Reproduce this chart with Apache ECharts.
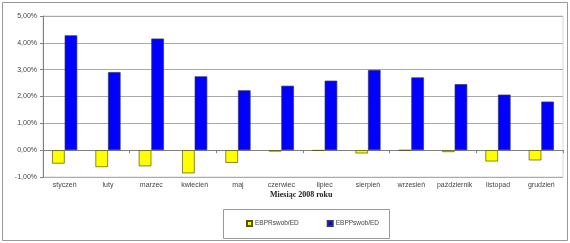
<!DOCTYPE html>
<html><head><meta charset="utf-8">
<script src="https://cdn.jsdelivr.net/npm/echarts@6/dist/echarts.min.js"></script>
<style>html,body{margin:0;padding:0;background:#fff}#c{width:570px;height:243px}</style>
</head><body><div id="c"></div>
<script>
const categories = ['styczeń','luty','marzec','kwiecień','maj','czerwiec','lipiec','sierpień','wrzesień','październik','listopad','grudzień'];
const seriesNames = ['EBPRswob/ED','EBPPswob/ED'];
const ebpr = [-0.50,-0.63,-0.60,-0.86,-0.47,-0.05,-0.02,-0.12,-0.01,-0.07,-0.42,-0.38];
const ebpp = [4.28,2.91,4.16,2.75,2.23,2.40,2.59,2.99,2.71,2.46,2.07,1.81];
const axisTitle = 'Miesiąc 2008 roku';

const chart = echarts.init(document.getElementById('c'));
const fmt = v => v.toFixed(2).replace('.', ',') + '%';
chart.setOption({
  animation: false,
  textStyle: {fontFamily: 'Liberation Sans, Arial, sans-serif'},
  grid: {left: 43, right: 7, top: 16, bottom: 66, show: true, borderColor: '#d8d8d8', borderWidth: 1},
  xAxis: [{
    type: 'category', data: categories, position: 'bottom',
    axisLine: {onZero: false, show: false},
    axisTick: {show: false},
    axisLabel: {fontSize: 7, color: '#444', margin: 5, interval: 0}
  }, {
    type: 'category', data: categories, position: 'bottom',
    axisLine: {onZero: true, onZeroAxisIndex: 0, lineStyle: {color: '#808080', width: 1}},
    axisTick: {show: true, length: 3, lineStyle: {color: '#808080'}},
    axisLabel: {show: false}
  }],
  yAxis: {
    type: 'value', min: -1, max: 5, interval: 1,
    axisLine: {show: true, lineStyle: {color: '#808080'}},
    axisTick: {show: true, length: 3, lineStyle: {color: '#808080'}},
    axisLabel: {fontSize: 7, color: '#444', margin: 6, formatter: fmt},
    splitLine: {lineStyle: {color: '#aaaaaa', width: 1}}
  },
  legend: {
    left: 241, top: 215, itemWidth: 5, itemHeight: 5, itemGap: 28,
    icon: 'rect',
    textStyle: {fontSize: 6.5, color: '#444', padding: [0,0,0,-2]},
    data: seriesNames
  },
  series: [{
    name: seriesNames[0], type: 'bar', data: ebpr, barWidth: '29%', barGap: '0%',
    itemStyle: {color: '#FFFF00', borderColor: '#555500', borderWidth: 0.7}
  }, {
    name: seriesNames[1], type: 'bar', data: ebpp, barWidth: '29%', barGap: '0%',
    itemStyle: {color: '#0000FF', borderColor: '#333366', borderWidth: 0.7}
  }],
  graphic: [
    {type: 'rect', shape: {x: 2.5, y: 2.5, width: 565, height: 238}, style: {fill: 'none', stroke: '#999', lineWidth: 1}, silent: true, z: -1},
    {type: 'rect', shape: {x: 223.5, y: 209.5, width: 166, height: 29}, style: {fill: 'none', stroke: '#999', lineWidth: 1}, silent: true},
    {type: 'text', left: 270, top: 191, style: {text: axisTitle, font: 'bold 8px "Liberation Serif", "Times New Roman", serif', fill: '#222'}}
  ]
});
</script></body></html>
